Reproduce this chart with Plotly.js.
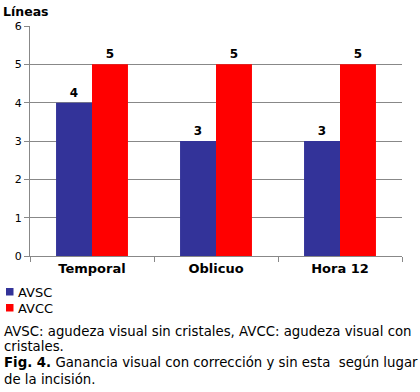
<!DOCTYPE html>
<html><head><meta charset="utf-8">
<script src="https://cdn.plot.ly/plotly-3.0.1.min.js"></script>
<style>html,body{margin:0;padding:0;background:#fff}#c{width:420px;height:392px}</style>
</head><body><div id="c"></div>
<script>
const categories = ["Temporal", "Oblicuo", "Hora 12"];
const avsc = [4, 3, 3];
const avcc = [5, 5, 5];
const seriesNames = ["AVSC", "AVCC"];
const seriesColors = ["#333399", "#ff0000"];
const yTicks = [0, 1, 2, 3, 4, 5, 6];

const W = 420, H = 392, L = 30, R = 18, T = 26, B = 136;
const pw = W - L - R, ph = H - T - B;
const px = x => (x - L) / pw;
const py = y => (H - B - y) / ph;
const F = "DejaVu Sans, Verdana, sans-serif";

const traces = [avsc, avcc].map((vals, i) => ({
  type: "bar", name: seriesNames[i], x: categories, y: vals, marker: {color: seriesColors[i]},
  text: vals.map(String), textposition: "outside", cliponaxis: false,
  textfont: {family: F, size: 12, color: "#000", weight: "bold"}
}));

const legendShapes = seriesNames.map((n, i) => ({
  type: "rect", xref: "paper", yref: "paper",
  x0: px(6), x1: px(13.5), y0: py(288 + i * 16), y1: py(295.5 + i * 16),
  fillcolor: seriesColors[i], line: {width: 0}
}));
const legendLabels = seriesNames.map((n, i) => ({
  xref: "paper", yref: "paper", x: px(16), y: py(292 + i * 16), xanchor: "left", yanchor: "middle",
  text: n, showarrow: false, font: {family: F, size: 13, color: "#000"}
}));

const cap = (y, t, size) => ({xref: "paper", yref: "paper", x: px(2), y: py(y), xanchor: "left",
  yanchor: "middle", text: t, showarrow: false, font: {family: F, size: size || 13.3, color: "#000"}});

const layout = {
  width: W, height: H, margin: {l: L, r: R, t: T, b: B},
  paper_bgcolor: "#fff", plot_bgcolor: "#fff",
  barmode: "group", bargap: 0.42, bargroupgap: 0,
  font: {family: F, size: 11, color: "#000"},
  showlegend: false,
  xaxis: {showgrid: false, showline: true, linecolor: "#888", linewidth: 1,
          ticks: "outside", ticklen: 5, tickcolor: "#888", tickson: "boundaries",
          tickfont: {family: F, size: 13, color: "#000", weight: "bold"}, fixedrange: true},
  yaxis: {range: [0, 6], tickvals: yTicks, showgrid: true, gridcolor: "#888", gridwidth: 1,
          showline: true, linecolor: "#888", linewidth: 1, ticks: "outside", ticklen: 5,
          tickcolor: "#888", zeroline: false, tickfont: {family: F, size: 11, color: "#000"},
          fixedrange: true},
  shapes: legendShapes,
  annotations: [
    {xref: "paper", yref: "paper", x: px(1), y: py(12), xanchor: "left", yanchor: "middle",
     text: "<b>Líneas</b>", showarrow: false, font: {family: F, size: 12.5, color: "#000"}},
    ...legendLabels,
    cap(331, "AVSC: agudeza visual sin cristales, AVCC: agudeza visual con"),
    cap(346, "cristales."),
    cap(362, "<b>Fig. 4.</b> Ganancia visual con corrección y sin esta  según lugar"),
    cap(379, "de la incisión.")
  ]
};

Plotly.newPlot("c", traces, layout, {displayModeBar: false, staticPlot: true});
</script></body></html>
